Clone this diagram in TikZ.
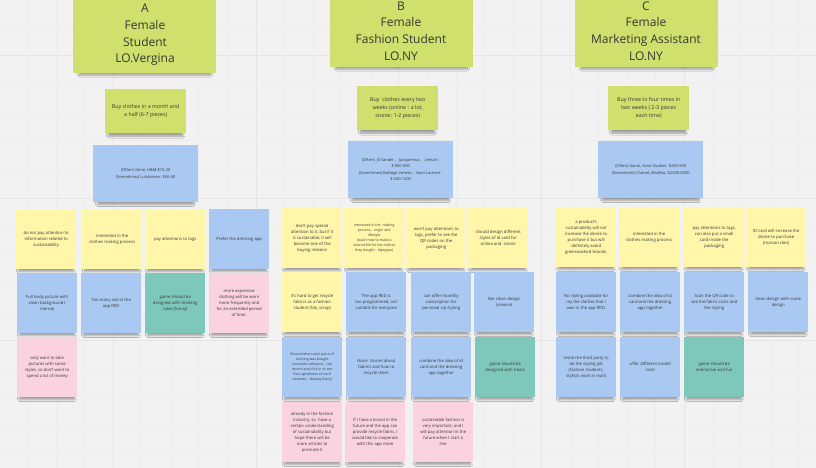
\documentclass[tikz,border=0pt]{standalone}
\usepackage{fontspec}
\setmainfont{Open Sans}
\newfontfamily\cjk{Noto Sans CJK SC}
\usetikzlibrary{shadows.blur}
\definecolor{bg}{RGB}{242,242,242}
\definecolor{gmaj}{RGB}{229,229,229}
\definecolor{gmin}{RGB}{237,237,237}
\definecolor{lime}{RGB}{208,224,108}
\definecolor{yel}{RGB}{255,246,170}
\definecolor{blu}{RGB}{170,201,242}
\definecolor{tea}{RGB}{126,200,187}
\definecolor{pnk}{RGB}{250,210,224}
\definecolor{ink}{RGB}{55,55,55}
\tikzset{
  paper/.style={draw=none, anchor=north west, inner sep=1pt, align=center, text=ink},
  shad/.style={blur shadow={shadow xshift=0pt, shadow yshift=-#1, shadow scale=0.92,
      shadow opacity=35, shadow blur steps=6}},
  note/.style={paper, shad=5pt, minimum width=60pt, minimum height=60pt, font=\fontsize{4.2}{6}\selectfont},
  tiny/.style={font=\fontsize{3.5}{5}\selectfont},
  freq/.style={paper, shad=5pt, fill=lime, minimum width=81pt, minimum height=44pt, font=\fontsize{5.3}{8}\selectfont},
  brand/.style={paper, shad=5pt, fill=blu, minimum width=105pt, minimum height=57pt, font=\fontsize{4}{6.5}\selectfont},
  head/.style={paper, shad=9pt, fill=lime, anchor=south west, minimum width=143pt, minimum height=150pt},
  headtext/.style={align=center, text=ink, inner sep=0pt, font=\fontsize{12}{16.7}\selectfont},
  gridmaj/.style={gmaj, line width=0.6pt},
  gridmin/.style={gmin, line width=0.4pt}
}
\newcommand{\stk}[5]{\node[note, fill=#4] (#1) at (#2,#3) {#5};}
\begin{document}
\begin{tikzpicture}[x=1pt,y=-1pt]
\useasboundingbox (0,0) rectangle (816,468);
\fill[bg] (0,0) rectangle (816,468);
% grid
\foreach \k in {-4,...,24} {\draw[gridmin] ({113+28.56*\k},0) -- ({113+28.56*\k},468);}
\foreach \k in {-2,...,15} {\draw[gridmin] (0,{55+28.56*\k}) -- (816,{55+28.56*\k});}
\foreach \k in {-1,...,5} {\draw[gridmaj] ({113+142.8*\k},0) -- ({113+142.8*\k},468);}
\foreach \k in {0,...,3} {\draw[gridmaj] (0,{55+142.8*\k}) -- (816,{55+142.8*\k});}

% headers
\node[head] (hA) at (73,73) {};
\node[headtext] (hAt) at (145,35) {A\\Female\\Student\\LO.Vergina};
\node[head] (hB) at (330,67) {};
\node[headtext] (hBt) at (401,31) {B\\Female\\Fashion Student\\LO.NY};
\node[head] (hC) at (575,67) {};
\node[headtext] (hCt) at (646,31) {C\\Female\\Marketing Assistant\\LO.NY};

% frequency
\node[freq] (fA) at (105,89) {Buy clothes in a month and\\a half (6-7 pieces)};
\node[freq] (fB) at (357,86) {Buy\ \ clothes every two\\weeks (online : a lot,\\stores: 1-2 pieces)};
\node[freq] (fC) at (608,86) {Buy three to four times in\\two weeks ( 2-3 pieces\\each time)};

% brands
\node[brand] (bA) at (93,145) {(Often) shine, H\&M:\$10-20\\(Sometimes) Lululemon: \$60-80};
\node[brand] (bB) at (348,141) {(Often)\ \ Jil Sander{\cjk ，}\ Jacquemus{\cjk ，}\ Lemair :\\\$ 800-900\\(Sometimes) Bottega Veneta{\cjk ，}Saint Laurent :\\\$ 600-1200};
\node[brand] (bC) at (598,141) {(Often) Ganni, Acne Studios: \$200-500\\(Sometimes) Chanel, MiuMiu: \$2000-5000};

% column A
\stk{a11}{16}{209}{yel}{do not pay attention to\\information related to\\sustainability}
\stk{a12}{82}{209}{yel}{interested in the\\clothes making process}
\stk{a13}{145}{209}{yel}{pay attentions to tags}
\stk{a14}{209}{209}{blu}{Prefer the dressing app}
\stk{a21}{17}{273}{blu}{Full body picture with\\clean background (\\ssense)}
\stk{a22}{81}{273}{blu}{Too many ads in the\\app RED}
\stk{a23}{145}{273}{tea}{game should be\\designed with drinking\\rules (funny)}
\stk{a24}{209}{273}{pnk}{more expensive\\clothing will be worn\\more frequently and\\for an extended period\\of time.}
\stk{a31}{17}{337}{pnk}{only want to take\\pictures with some\\styles, so don't want to\\spend a lot of money}

% column B
\stk{b11}{282}{208}{yel}{don't pay special\\attention to it, but if it\\is sustainable, it will\\become one of the\\buying reasons}
\node[note, tiny, fill=yel] (b12) at (344,208) {interested in the\ \ making\\process{\cjk ，}origin and\\lifestyle\\(teach how to make a\\second life for the clothes\\they bought - diptyque)};
\stk{b13}{406}{208}{yel}{won't pay attentions to\\tags, prefer to see the\\QR codes on the\\packaging}
\stk{b14}{468}{208}{yel}{should design different\\styles of id card for\\online and\ \ stores}
\stk{b21}{282}{272}{yel}{it's hard to get recycle\\fabrics as a fashion\\student (fab\_scrap)}
\stk{b22}{346}{272}{blu}{The app RED is\\too programmed, not\\suitable for everyone}
\stk{b23}{411}{272}{blu}{can offer monthly\\subscription for\\personal vip styling}
\stk{b24}{474}{272}{blu}{like clean design\\(ssense)}
\node[note, tiny, fill=blu] (b31) at (282,337) {Record when each piece of\\clothing was bought\\(cosmetic software{\cjk ：}can\\record and click in to see\\the ingredients of each\\cosmetic - Beauty Diary)};
\stk{b32}{346}{337}{blu}{share\ \ stories about\\fabrics and how to\\recycle them}
\stk{b33}{411}{337}{blu}{combine the idea of id\\card and the dressing\\app together}
\stk{b34}{475}{337}{tea}{game should be\\designed with treats}
\stk{b41}{282}{402}{pnk}{already in the fashion\\industry, so\ \ have a\\certain understanding\\of sustainability but\\hope there will be\\more articles to\\promote it}
\stk{b42}{345}{402}{pnk}{If I have a brand in the\\future and the app can\\provide recycle fabric, I\\would like to cooperate\\with this app more}
\stk{b43}{413}{402}{pnk}{sustainable fashion is\\very important, and I\\will pay attention in the\\future when I start a\\line}

% column C
\stk{c11}{556}{207}{yel}{a product's\\sustainability will not\\increase the desire to\\purchase it but will\\definitely avoid\\greenwashed brands.}
\stk{c12}{619}{207}{yel}{interested in the\\clothes making process}
\stk{c13}{684}{207}{yel}{pay attentions to tags,\\can also put a small\\card inside the\\packaging}
\stk{c14}{746}{207}{yel}{ID card will increase the\\desire to purchase\\(maison cleo)}
\stk{c21}{556}{272}{blu}{No styling available for\\my the clothes that I\\own in the app RED.}
\stk{c22}{620}{272}{blu}{combine the idea of id\\card and the dressing\\app together}
\stk{c23}{684}{272}{blu}{Scan the QR code to\\see the fabric costs and\\the styling}
\stk{c24}{748}{272}{blu}{clean design with some\\design}
\stk{c31}{556}{337}{blu}{invite the third party to\\do the styling job\\(fashion students,\\stylists work in mall)}
\stk{c32}{620}{337}{blu}{offer different model\\sizes}
\stk{c33}{684}{337}{tea}{game should be\\interactive and fun}
\end{tikzpicture}
\end{document}
